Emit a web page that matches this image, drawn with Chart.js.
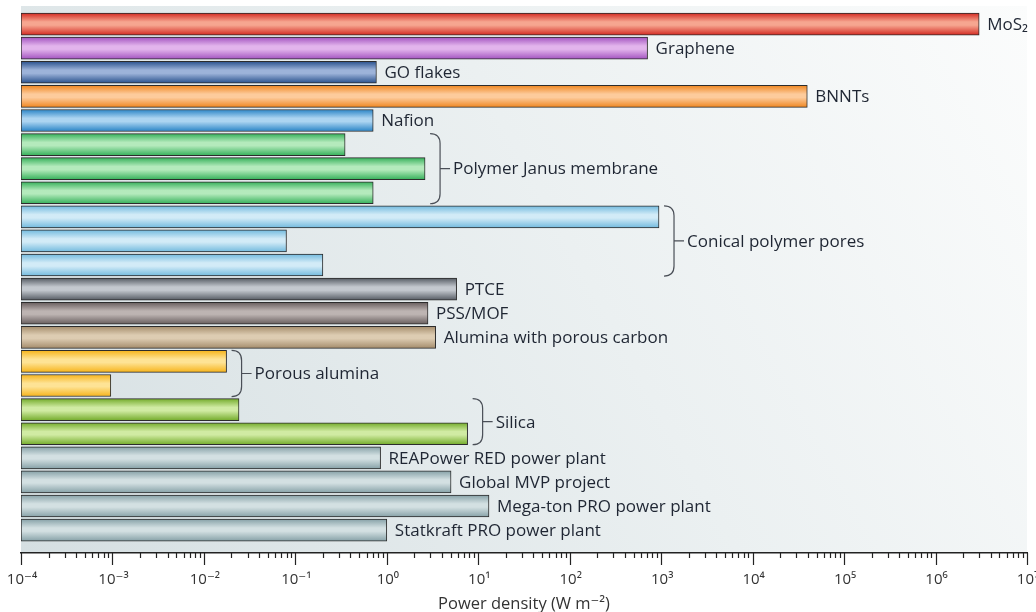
<!DOCTYPE html>
<html>
<head>
<meta charset="utf-8">
<script src="https://cdn.jsdelivr.net/npm/chart.js@4.4.1/dist/chart.umd.min.js"></script>
<style>
html, body { margin: 0; padding: 0; background: #fff; }
#wrap { width: 1036px; height: 612px; position: relative; }
</style>
</head>
<body>
<div id="wrap"><canvas id="powerChart"></canvas></div>
<script>
// bars from top to bottom, '' = label comes from the bracket group
const barLabels = [
    'MoS₂', 'Graphene', 'GO flakes', 'BNNTs', 'Nafion',
    '', '', '',
    '', '', '',
    'PTCE', 'PSS/MOF', 'Alumina with porous carbon',
    '', '',
    '', '',
    'REAPower RED power plant', 'Global MVP project', 'Mega-ton PRO power plant', 'Statkraft PRO power plant'
];
const powerDensity = [
    3.0e6, 710, 0.77, 3.96e4, 0.71,
    0.35, 2.62, 0.71,
    947, 0.08, 0.2,
    5.8, 2.82, 3.42,
    0.0177, 0.00096,
    0.0242, 7.65,
    0.855, 5.04, 13.1, 1.0
];
// bracket groups (first row, last row)
const groups = [
    { name: 'Polymer Janus membrane', from: 5, to: 7 },
    { name: 'Conical polymer pores', from: 8, to: 10 },
    { name: 'Porous alumina', from: 14, to: 15 },
    { name: 'Silica', from: 16, to: 17 }
];
const decades = [-4, -3, -2, -1, 0, 1, 2, 3, 4, 5, 6, 7];
const tickLabels = ['10⁻⁴', '10⁻³', '10⁻²', '10⁻¹', '10⁰', '10¹', '10²', '10³', '10⁴', '10⁵', '10⁶', '10⁷'];
const axisTitle = 'Power density (W m⁻²)';

// [edge, middle] colour of each bar
const barColors = [
    ['#d32a22', '#f6a690'],
    ['#a253bf', '#e2b4ec'],
    ['#28508c', '#9db3d9'],
    ['#ef8620', '#fdcb9c'],
    ['#2883c6', '#acd4f1'],
    ['#35b05a', '#b4eabc'], ['#35b05a', '#b4eabc'], ['#35b05a', '#b4eabc'],
    ['#72bade', '#d2ebf7'], ['#72bade', '#d2ebf7'], ['#72bade', '#d2ebf7'],
    ['#555b63', '#c3c8ce'],
    ['#675d5d', '#bdb4b2'],
    ['#a48c6b', '#ddccb2'],
    ['#f6b31a', '#fee395'], ['#f6b31a', '#fee395'],
    ['#73ab2a', '#d0eba3'], ['#73ab2a', '#d0eba3'],
    ['#86a1a7', '#d3e0e2'], ['#86a1a7', '#d3e0e2'], ['#86a1a7', '#d3e0e2'], ['#86a1a7', '#d3e0e2']
];

const FONT = "'Open Sans', 'DejaVu Sans', sans-serif";
const TEXT = '#1f2633';
const BAR_H = 22;

const tickValues = [];
decades.forEach(d => {
    for (let m = 1; m <= 9; m++) {
        if (d === decades[decades.length - 1] && m > 1) break;
        tickValues.push(m * Math.pow(10, d));
    }
});

function isDecade(v) {
    const l = Math.log10(v);
    return Math.abs(l - Math.round(l)) < 1e-6;
}

function barGradient(context) {
    const chart = context.chart;
    const c = barColors[context.dataIndex];
    if (!chart.chartArea) return c[0];
    const y = chart.scales.y.getPixelForValue(context.dataIndex);
    const g = chart.ctx.createLinearGradient(0, y - BAR_H / 2, 0, y + BAR_H / 2);
    g.addColorStop(0, c[0]);
    g.addColorStop(0.4, c[1]);
    g.addColorStop(0.55, c[1]);
    g.addColorStop(1, c[0]);
    return g;
}

const panelPlugin = {
    id: 'panel',
    beforeDraw(chart) {
        const { ctx, chartArea: a } = chart;
        const g = ctx.createLinearGradient(a.left, a.bottom, a.right, a.top);
        g.addColorStop(0, '#d5dfe2');
        g.addColorStop(0.55, '#ebf0f1');
        g.addColorStop(1, '#fbfcfc');
        ctx.save();
        ctx.fillStyle = g;
        ctx.fillRect(a.left, a.top, a.right - a.left, a.bottom - a.top);
        ctx.restore();
    }
};

// minor/major tick marks, decade labels and the axis title
const axisPlugin = {
    id: 'logAxis',
    afterDraw(chart) {
        const { ctx, chartArea: a } = chart;
        const sx = chart.scales.x;
        ctx.save();
        ctx.strokeStyle = '#222';
        ctx.lineWidth = 1.2;
        sx.ticks.forEach(t => {
            const x = Math.round(sx.getPixelForValue(t.value)) + 0.5;
            const len = isDecade(t.value) ? 12 : 5;
            ctx.beginPath();
            ctx.moveTo(x, a.bottom);
            ctx.lineTo(x, a.bottom + len);
            ctx.stroke();
        });
        ctx.fillStyle = '#333';
        ctx.font = '15px ' + FONT;
        ctx.textAlign = 'center';
        ctx.textBaseline = 'middle';
        decades.forEach((d, i) => {
            ctx.fillText(tickLabels[i], sx.getPixelForValue(Math.pow(10, d)) + 1, a.bottom + 27);
        });
        ctx.font = '16.5px ' + FONT;
        ctx.fillText(axisTitle, (a.left + a.right) / 2, a.bottom + 51);
        ctx.restore();
    }
};

const labelPlugin = {
    id: 'barText',
    afterDatasetsDraw(chart) {
        const { ctx } = chart;
        const sx = chart.scales.x, sy = chart.scales.y;
        ctx.save();
        ctx.font = '17px ' + FONT;
        ctx.fillStyle = TEXT;
        ctx.textBaseline = 'middle';
        ctx.textAlign = 'left';
        barLabels.forEach((lab, i) => {
            if (!lab) return;
            ctx.fillText(lab, sx.getPixelForValue(powerDensity[i]) + 8, sy.getPixelForValue(i) + 1);
        });

        ctx.strokeStyle = '#4a4f57';
        ctx.lineWidth = 1.2;
        groups.forEach(gr => {
            let maxV = 0;
            for (let i = gr.from; i <= gr.to; i++) maxV = Math.max(maxV, powerDensity[i]);
            const xEnd = sx.getPixelForValue(maxV);
            const top = sy.getPixelForValue(gr.from) - 11;
            const bot = sy.getPixelForValue(gr.to) + 11;
            const mid = (top + bot) / 2;
            const x0 = xEnd + 5, x1 = xEnd + 15, r = 10;
            ctx.beginPath();
            ctx.moveTo(x0, top);
            ctx.quadraticCurveTo(x1, top, x1, top + r);
            ctx.lineTo(x1, bot - r);
            ctx.quadraticCurveTo(x1, bot, x0, bot);
            ctx.moveTo(x1, mid);
            ctx.lineTo(x1 + 10, mid);
            ctx.stroke();
            ctx.fillText(gr.name, x1 + 13, mid + 1);
        });
        ctx.restore();
    }
};

new Chart(document.getElementById('powerChart'), {
    type: 'bar',
    data: {
        datasets: [{
            data: powerDensity.map((v, i) => ({ x: v, y: i })),
            backgroundColor: barGradient,
            borderColor: '#2c2c2c',
            borderWidth: 1,
            borderSkipped: false,
            barThickness: BAR_H
        }]
    },
    options: {
        indexAxis: 'y',
        responsive: true,
        maintainAspectRatio: false,
        animation: false,
        layout: { padding: { left: 21, right: 9, top: 6, bottom: 0 } },
        plugins: { legend: { display: false }, tooltip: { enabled: false } },
        scales: {
            y: {
                type: 'linear',
                reverse: true,
                offset: false,
                min: -0.75,
                max: 21.95,
                display: false,
                grid: { offset: false }
            },
            x: {
                type: 'logarithmic',
                min: 1e-4,
                max: 1e7,
                afterBuildTicks(scale) {
                    scale.ticks = tickValues.map(v => ({ value: v, major: isDecade(v) }));
                },
                grid: { drawOnChartArea: false, drawTicks: true, tickLength: 59, tickColor: 'rgba(0,0,0,0)' },
                border: { display: true, color: '#222', width: 1.5 },
                ticks: { display: false },
                title: { display: false }
            }
        }
    },
    plugins: [panelPlugin, axisPlugin, labelPlugin]
});
</script>
</body>
</html>
